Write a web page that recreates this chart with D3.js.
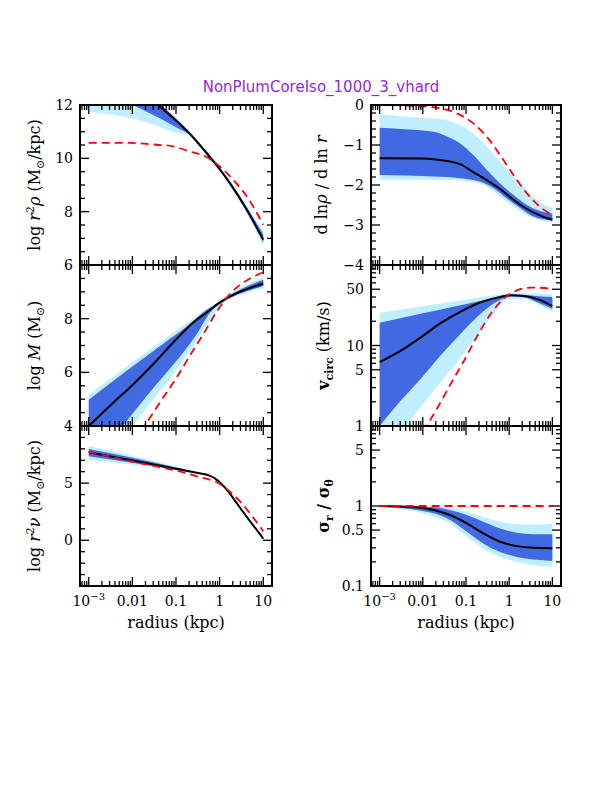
<!DOCTYPE html>
<html><head><meta charset="utf-8">
<script src="https://cdn.jsdelivr.net/npm/d3@7"></script>
<style>body{margin:0;background:#fff} svg{display:block}</style>
</head><body>
<svg id="c" width="612" height="792"></svg>
<script>
// ---------- DATA  (each point: [log10(radius/kpc), value]) ----------
const titleText = "NonPlumCoreIso_1000_3_vhard";
const xTickValues = [1e-3, 0.01, 0.1, 1, 10];
const xTickLabels = ["10|−3", "0.01", "0.1", "1", "10"];

// panel 1 : log r^2 rho
const yTicks_rho = [6, 8, 10, 12];
const rho_med   = [[-3,14.2],[-2.2,13.1],[-1.41,12.0],[-1.0,11.42],[-0.69,10.93],[-0.3,10.2],[0,9.6],[0.23,9.08],[0.62,8.08],[1.0,6.95]];
const rho_d_hi  = [[-3,14.5],[-2.2,13.3],[-1.41,12.1],[-1.0,11.48],[-0.69,10.98],[-0.3,10.25],[0,9.66],[0.23,9.15],[0.62,8.17],[1.0,7.14]];
const rho_d_lo  = [[-3,12.8],[-1.99,12.0],[-1.68,11.76],[-1.38,11.51],[-1.07,11.23],[-0.84,11.03],[-0.69,10.89],[-0.3,10.14],[0,9.54],[0.23,9.02],[0.62,8.0],[1.0,6.83]];
const rho_l_hi  = [[-3,15.0],[-2.2,13.5],[-1.41,12.15],[-1.0,11.53],[-0.69,11.01],[-0.3,10.29],[0,9.7],[0.23,9.2],[0.62,8.23],[1.0,7.26]];
const rho_l_lo  = [[-3,11.73],[-2.6,11.68],[-2.22,11.58],[-1.84,11.43],[-1.45,11.23],[-1.07,10.98],[-0.84,10.9],[-0.69,10.84],[-0.5,10.52],[-0.3,10.1],[0,9.5],[0.23,8.97],[0.62,7.93],[1.0,6.7]];
const rho_model = [[-3,10.58],[-2.07,10.58],[-1.45,10.51],[-1.07,10.45],[-0.69,10.26],[-0.3,10.05],[0,9.7],[0.31,9.2],[0.62,8.58],[1.0,7.51]];

// panel 2 : d ln rho / d ln r
const yTicks_slope = [0, -1, -2, -3, -4];
const slope_med   = [[-3,-1.33],[-2,-1.34],[-1.6,-1.375],[-1.135,-1.48],[-0.83,-1.68],[-0.52,-1.88],[-0.21,-2.1],[0.1,-2.37],[0.41,-2.6],[0.71,-2.76],[1.0,-2.87]];
const slope_d_hi  = [[-3,-0.57],[-2.52,-0.6],[-1.75,-0.67],[-1.44,-0.79],[-1.135,-0.96],[-0.83,-1.25],[-0.52,-1.62],[-0.21,-1.96],[0.1,-2.25],[0.41,-2.5],[0.71,-2.65],[1.0,-2.71]];
const slope_d_lo  = [[-3,-1.75],[-1.75,-1.79],[-1.135,-1.83],[-0.67,-1.92],[-0.36,-2.08],[-0.06,-2.33],[0.26,-2.58],[0.56,-2.79],[1.0,-2.89]];
const slope_l_hi  = [[-3,-0.23],[-2.14,-0.31],[-1.52,-0.36],[-1.21,-0.46],[-0.83,-0.71],[-0.52,-1.04],[-0.21,-1.42],[0.1,-1.79],[0.41,-2.12],[0.71,-2.42],[1.0,-2.58]];
const slope_l_lo  = [[-3,-1.86],[-1.36,-1.875],[-0.83,-1.92],[-0.52,-2.04],[-0.21,-2.29],[0.1,-2.54],[0.41,-2.75],[0.71,-2.875],[1.0,-2.94]];
const slope_model = [[-3,0],[-2.14,-0.025],[-1.6,-0.08],[-1.21,-0.21],[-0.83,-0.46],[-0.52,-0.79],[-0.21,-1.25],[0.1,-1.75],[0.41,-2.21],[0.71,-2.54],[1.0,-2.75]];

// panel 3 : log M
const yTicks_mass = [4, 6, 8];
const mass_med   = [[-3,4.0],[-2.45,4.85],[-1.99,5.54],[-1.53,6.29],[-1.07,7.1],[-0.61,7.85],[-0.3,8.23],[0,8.6],[0.31,8.89],[0.62,9.1],[1.0,9.31]];
const mass_d_hi  = [[-3,4.98],[-2,6.22],[-1.3,7.06],[-0.7,7.78],[-0.4,8.2],[0,8.63],[0.31,8.95],[0.62,9.2],[1.0,9.45]];
const mass_d_lo  = [[-3,2.4],[-2.22,4.0],[-1.68,5.1],[-1.22,5.98],[-0.84,6.73],[-0.53,7.41],[-0.23,8.2],[0,8.55],[0.31,8.83],[0.62,9.02],[1.0,9.22]];
const mass_l_hi  = [[-3,5.16],[-2,6.38],[-1.3,7.2],[-0.7,7.9],[-0.4,8.26],[0,8.67],[0.31,9.0],[0.62,9.28],[1.0,9.54]];
const mass_l_lo  = [[-3,1.85],[-1.99,4.0],[-1.53,4.98],[-1.07,5.91],[-0.69,6.79],[-0.38,7.54],[-0.15,8.1],[0.1,8.6],[0.31,8.8],[0.62,8.97],[1.0,9.13]];
const mass_model = [[-2.3,2.6],[-1.72,4.0],[-1.38,4.85],[-0.99,5.79],[-0.69,6.6],[-0.38,7.41],[-0.07,8.25],[0.16,8.78],[0.46,9.25],[0.7,9.5],[1.0,9.73]];

// panel 4 : v_circ (km/s)
const yTicks_vc = [1, 5, 10, 50];
const vc_med   = [[-3,6.2],[-2.49,8.75],[-2.03,12.8],[-1.57,19.2],[-1.10,26.8],[-0.64,34.7],[-0.26,39.6],[0.05,42],[0.36,41.2],[0.67,37.4],[1.0,30.9]];
const vc_d_hi  = [[-3,19.2],[-2,25.1],[-1,32.7],[-0.33,39.3],[0.05,43],[0.36,42.4],[0.67,41],[1.0,40]];
const vc_d_lo  = [[-3,1.0],[-2.49,2.13],[-2.03,3.96],[-1.57,7.73],[-1.10,14.4],[-0.72,23.2],[-0.33,33.9],[0.05,40.5],[0.36,39.6],[0.67,34],[1.0,28.6]];
const vc_l_hi  = [[-3,25.5],[-2,30.7],[-1,37.1],[-0.33,42],[0.05,44.5],[0.36,44.5],[0.67,44],[1.0,43]];
const vc_l_lo  = [[-3,0.42],[-2.41,1.0],[-2.03,1.76],[-1.57,3.6],[-1.10,7.38],[-0.72,13.7],[-0.33,25.5],[-0.03,37.4],[0.36,38.1],[0.67,32.5],[1.0,26.3]];
const vc_model = [[-2.3,0.45],[-1.91,1.0],[-1.64,1.76],[-1.34,3.43],[-1.03,6.7],[-0.72,13.7],[-0.41,25.5],[-0.10,39.3],[0.21,49],[0.51,52.4],[0.82,51.8],[1.0,49.9]];

// panel 5 : log r^2 nu
const yTicks_nu = [0, 5];
const nu_med   = [[-3,7.7],[-2,6.98],[-1,6.26],[-0.46,5.87],[-0.25,5.68],[-0.1,5.4],[0.05,4.9],[0.2,4.25],[0.4,3.2],[0.7,1.65],[1.0,0.15]];
const nu_d_hi  = [[-3,7.98],[-2,7.22],[-1,6.36],[-0.46,5.87]];
const nu_d_lo  = [[-3,7.35],[-2,6.78],[-1,6.18],[-0.46,5.87]];
const nu_l_hi  = [[-3,8.25],[-2,7.4],[-1,6.45],[-0.46,5.87]];
const nu_l_lo  = [[-3,7.05],[-2,6.6],[-1,6.12],[-0.46,5.87]];
const nu_model = [[-3,7.75],[-2,6.89],[-1,6.1],[-0.5,5.58],[0,4.94],[0.25,4.2],[0.5,3.26],[0.75,2.09],[1.0,0.78]];

// panel 6 : sigma_r / sigma_theta
const yTicks_beta = [0.1, 0.5, 1, 5];
const beta_med   = [[-3,1.0],[-2.14,0.962],[-1.75,0.891],[-1.37,0.771],[-0.98,0.606],[-0.6,0.454],[-0.21,0.357],[0.175,0.315],[0.56,0.3],[1.0,0.297]];
const beta_d_hi  = [[-3,1.0],[-1.75,0.962],[-1.37,0.891],[-0.98,0.771],[-0.6,0.636],[-0.21,0.525],[0.175,0.463],[0.56,0.445],[1.0,0.445]];
const beta_d_lo  = [[-3,0.98],[-2.14,0.891],[-1.75,0.809],[-1.37,0.667],[-0.98,0.476],[-0.6,0.34],[-0.21,0.267],[0.175,0.231],[0.56,0.214],[1.0,0.206]];
const beta_l_hi  = [[-3,1.0],[-1.75,0.975],[-1.37,0.935],[-0.98,0.849],[-0.6,0.735],[-0.21,0.636],[0.175,0.594],[0.56,0.585],[1.0,0.61]];
const beta_l_lo  = [[-3,0.962],[-2.14,0.849],[-1.75,0.735],[-1.37,0.606],[-0.98,0.412],[-0.6,0.294],[-0.21,0.231],[0.175,0.2],[0.56,0.182],[1.0,0.173]];
const beta_model = [[-3,1.0],[1.0,1.0]];

// ---------- LAYOUT ----------
const cols = [{x0:80, x1:272}, {x0:371, x1:561}];
const rows = [{y0:105, y1:265}, {y0:265, y1:426}, {y0:426, y1:586}];
const C_LIGHT = "#bfefff", C_DARK = "#4169e1", C_RED = "#ff0000", C_TITLE = "#9b1fdc";
const FONT = "'DejaVu Serif', serif";

const panels = [
  {col:0,row:0,type:"lin",dom:[6,12],major:2,minor:0.5,labels:yTicks_rho,
   med:rho_med,dhi:rho_d_hi,dlo:rho_d_lo,lhi:rho_l_hi,llo:rho_l_lo,model:rho_model,
   ylab:[{t:"log "},{t:"r",i:1},{t:"2",sup:1},{t:"ρ",i:1},{t:" (M"},{t:"⊙",sub:1},{t:"/kpc)"}], lx:40},
  {col:1,row:0,type:"lin",dom:[-4,0],major:1,minor:0.2,labels:yTicks_slope,
   med:slope_med,dhi:slope_d_hi,dlo:slope_d_lo,lhi:slope_l_hi,llo:slope_l_lo,model:slope_model,
   ylab:[{t:"d ln"},{t:"ρ",i:1},{t:" / d ln "},{t:"r",i:1}], lx:327},
  {col:0,row:1,type:"lin",dom:[4,10],major:2,minor:0.5,labels:yTicks_mass,
   med:mass_med,dhi:mass_d_hi,dlo:mass_d_lo,lhi:mass_l_hi,llo:mass_l_lo,model:mass_model,
   ylab:[{t:"log "},{t:"M",i:1},{t:" (M"},{t:"⊙",sub:1},{t:")"}], lx:40},
  {col:1,row:1,type:"log",dom:[1,100],labels:yTicks_vc,
   med:vc_med,dhi:vc_d_hi,dlo:vc_d_lo,lhi:vc_l_hi,llo:vc_l_lo,model:vc_model,
   ylab:[{t:"v",b:1},{t:"circ",sub:1,b:1},{t:" (km/s)"}], lx:329},
  {col:0,row:2,type:"lin",dom:[-4,10],major:5,minor:1,labels:yTicks_nu,
   med:nu_med,dhi:nu_d_hi,dlo:nu_d_lo,lhi:nu_l_hi,llo:nu_l_lo,model:nu_model,
   ylab:[{t:"log "},{t:"r",i:1},{t:"2",sup:1},{t:"ν",i:1},{t:" (M"},{t:"⊙",sub:1},{t:"/kpc)"}], lx:40},
  {col:1,row:2,type:"log",dom:[0.1,10],labels:yTicks_beta,
   med:beta_med,dhi:beta_d_hi,dlo:beta_d_lo,lhi:beta_l_hi,llo:beta_l_lo,model:beta_model,
   ylab:[{t:"σ",b:1},{t:"r",sub:1,b:1},{t:" / ",b:1},{t:"σ",b:1},{t:"θ",sub:1,b:1}], lx:329}
];

const svg = d3.select("#c");
const defs = svg.append("defs");

function rich(textSel, segs, fs) {
  let shift = 0;
  segs.forEach(s => {
    const target = s.sup ? -fs*0.4 : (s.sub ? fs*0.28 : 0);
    const ts = textSel.append("tspan").text(s.t).attr("dy", target - shift);
    shift = target;
    if (s.sup || s.sub) ts.attr("font-size", fs*0.68);
    if (s.i) ts.attr("font-style", "italic");
    if (s.b) ts.attr("font-weight", "bold");
  });
}
const fmt = v => (v < 0 ? "−" + Math.abs(v) : String(v));

// title
svg.append("text").attr("x", 321).attr("y", 92).attr("text-anchor", "middle")
  .attr("font-family", "'DejaVu Sans', sans-serif").attr("font-size", 15)
  .attr("fill", C_TITLE).text(titleText);

panels.forEach((p, idx) => {
  const {x0, x1} = cols[p.col], {y0, y1} = rows[p.row];
  const x = d3.scaleLog().domain([Math.pow(10,-3.2), Math.pow(10,1.2)]).range([x0, x1]);
  const y = (p.type === "log" ? d3.scaleLog() : d3.scaleLinear()).domain(p.dom).range([y1, y0]);
  const g = svg.append("g");
  const cid = "clip" + idx;
  defs.append("clipPath").attr("id", cid).append("rect")
    .attr("x", x0).attr("y", y0).attr("width", x1 - x0).attr("height", y1 - y0);
  const body = g.append("g").attr("clip-path", `url(#${cid})`);

  const line = d3.line().x(d => x(Math.pow(10, d[0]))).y(d => y(d[1])).curve(d3.curveMonotoneX);
  const band = (hi, lo) => {
    const a = line(hi), b = line(lo.slice().reverse());
    return a + "L" + b.slice(1) + "Z";
  };
  body.append("path").attr("d", band(p.lhi, p.llo)).attr("fill", C_LIGHT).attr("stroke", "none");
  body.append("path").attr("d", band(p.dhi, p.dlo)).attr("fill", C_DARK).attr("stroke", "none");
  body.append("path").attr("d", line(p.med)).attr("fill", "none").attr("stroke", "#000").attr("stroke-width", 2);
  body.append("path").attr("d", line(p.model)).attr("fill", "none").attr("stroke", C_RED)
    .attr("stroke-width", 1.8).attr("stroke-dasharray", "8,5");

  // x ticks (top & bottom, inward)
  const xt = [];
  for (let d = -4; d <= 1; d++) for (let m = 1; m <= 9; m++) {
    const v = m * Math.pow(10, d);
    const px = x(v);
    if (px >= x0 - 0.01 && px <= x1 + 0.01) xt.push({px, major: m === 1});
  }
  xt.forEach(t => {
    const L = t.major ? 9 : 5;
    g.append("line").attr("x1", t.px).attr("x2", t.px).attr("y1", y1).attr("y2", y1 - L);
    g.append("line").attr("x1", t.px).attr("x2", t.px).attr("y1", y0).attr("y2", y0 + L);
  });
  // y ticks
  const yt = [];
  if (p.type === "lin") {
    const eps = 1e-9;
    for (let v = Math.ceil(p.dom[0]/p.minor)*p.minor; v <= p.dom[1] + eps; v += p.minor) {
      const r = Math.round(v*1000)/1000;
      const isMaj = Math.abs(r/p.major - Math.round(r/p.major)) < 1e-6;
      yt.push({py: y(r), major: isMaj});
    }
  } else {
    const lo = Math.floor(Math.log10(p.dom[0])), hi = Math.ceil(Math.log10(p.dom[1]));
    for (let d = lo; d <= hi; d++) for (let m = 1; m <= 9; m++) {
      const v = m * Math.pow(10, d);
      if (v < p.dom[0]*0.999 || v > p.dom[1]*1.001) continue;
      yt.push({py: y(v), major: m === 1 || m === 5});
    }
  }
  yt.forEach(t => {
    const L = t.major ? 9 : 5;
    g.append("line").attr("x1", x0).attr("x2", x0 + L).attr("y1", t.py).attr("y2", t.py);
    g.append("line").attr("x1", x1).attr("x2", x1 - L).attr("y1", t.py).attr("y2", t.py);
  });
  g.selectAll("line").attr("stroke", "#000").attr("stroke-width", 1.3);

  // frame
  g.append("rect").attr("x", x0).attr("y", y0).attr("width", x1 - x0).attr("height", y1 - y0)
    .attr("fill", "none").attr("stroke", "#000").attr("stroke-width", 2);

  // y tick labels (top label omitted below first row)
  p.labels.forEach(v => {
    const py = y(v);
    if (p.row > 0 && Math.abs(py - y0) < 1) return;
    g.append("text").attr("x", x0 - 7).attr("y", py).attr("dy", "0.36em")
      .attr("text-anchor", "end").attr("font-family", FONT).attr("font-size", 14).text(fmt(v));
  });

  // y axis label
  const yl = g.append("text").attr("transform", `translate(${p.lx},${(y0+y1)/2}) rotate(-90)`)
    .attr("text-anchor", "middle").attr("font-family", FONT).attr("font-size", 16);
  rich(yl, p.ylab, 16);

  // x tick labels & axis title on bottom row
  if (p.row === 2) {
    xTickValues.forEach((v, i) => {
      const lab = xTickLabels[i];
      const t = g.append("text").attr("x", x(v)).attr("y", 606).attr("text-anchor", "middle")
        .attr("font-family", FONT).attr("font-size", 14);
      if (lab.includes("|")) {
        const [b, e] = lab.split("|");
        t.append("tspan").text(b);
        t.append("tspan").text(e).attr("font-size", 10).attr("dy", -6);
      } else t.text(lab);
    });
    g.append("text").attr("x", (x0 + x1)/2).attr("y", 628).attr("text-anchor", "middle")
      .attr("font-family", FONT).attr("font-size", 16).text("radius (kpc)");
  }
});
</script></body></html>
